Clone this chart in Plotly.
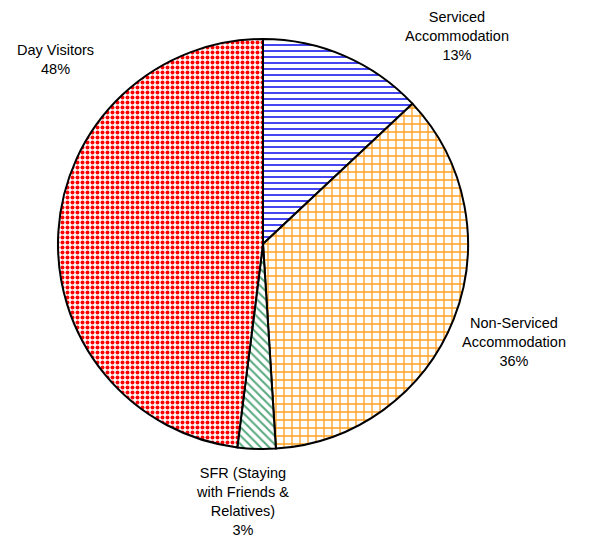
import plotly.graph_objects as go

categories = ["Serviced Accommodation", "Non-Serviced Accommodation",
              "SFR (Staying with Friends & Relatives)", "Day Visitors"]
shares = [13, 36, 3, 48]
label_texts = ["Serviced<br>Accommodation<br>13%",
               "Non-Serviced<br>Accommodation<br>36%",
               "SFR (Staying<br>with Friends &<br>Relatives)<br>3%",
               "Day Visitors<br>48%"]

fg_colors = ["#3030f0", "#ffa020", "#5aaa80", "#ff0000"]
shapes = ["-", "+", "\\", "."]
pat_sizes = [6, 8, 6, 5]
pat_solid = [0.3, 0.3, 0.35, 0.5]

W, H = 589, 539
cx, cy, r = 263, 244, 205

fig = go.Figure(go.Pie(
    labels=categories,
    values=shares,
    sort=False,
    direction="clockwise",
    rotation=0,
    textinfo="none",
    hoverinfo="label+percent",
    marker=dict(
        colors=["white"] * 4,
        line=dict(color="black", width=2),
        pattern=dict(shape=shapes, fgcolor=fg_colors, bgcolor=["white"] * 4,
                     size=pat_sizes, solidity=pat_solid, fillmode="overlay",
                     fgopacity=1),
    ),
    domain=dict(x=[(cx - r) / W, (cx + r) / W],
                y=[1 - (cy + r) / H, 1 - (cy - r) / H]),
))

label_pos = [(457, 36), (514, 342), (242, 501), (55, 59)]
annotations = []
for txt, (x, y) in zip(label_texts, label_pos):
    annotations.append(dict(
        text=txt, x=x / W, y=1 - y / H, xref="paper", yref="paper",
        showarrow=False, xanchor="center", yanchor="middle",
        font=dict(family="Liberation Sans, Arial, sans-serif", size=14.5, color="#000000"),
        align="center",
    ))

fig.update_layout(
    width=W, height=H,
    margin=dict(l=0, r=0, t=0, b=0),
    paper_bgcolor="white",
    showlegend=False,
    annotations=annotations,
)

fig.write_html("out.html", config={"displayModeBar": False},
               post_script="document.body.style.margin='0';document.body.style.overflow='hidden';")
